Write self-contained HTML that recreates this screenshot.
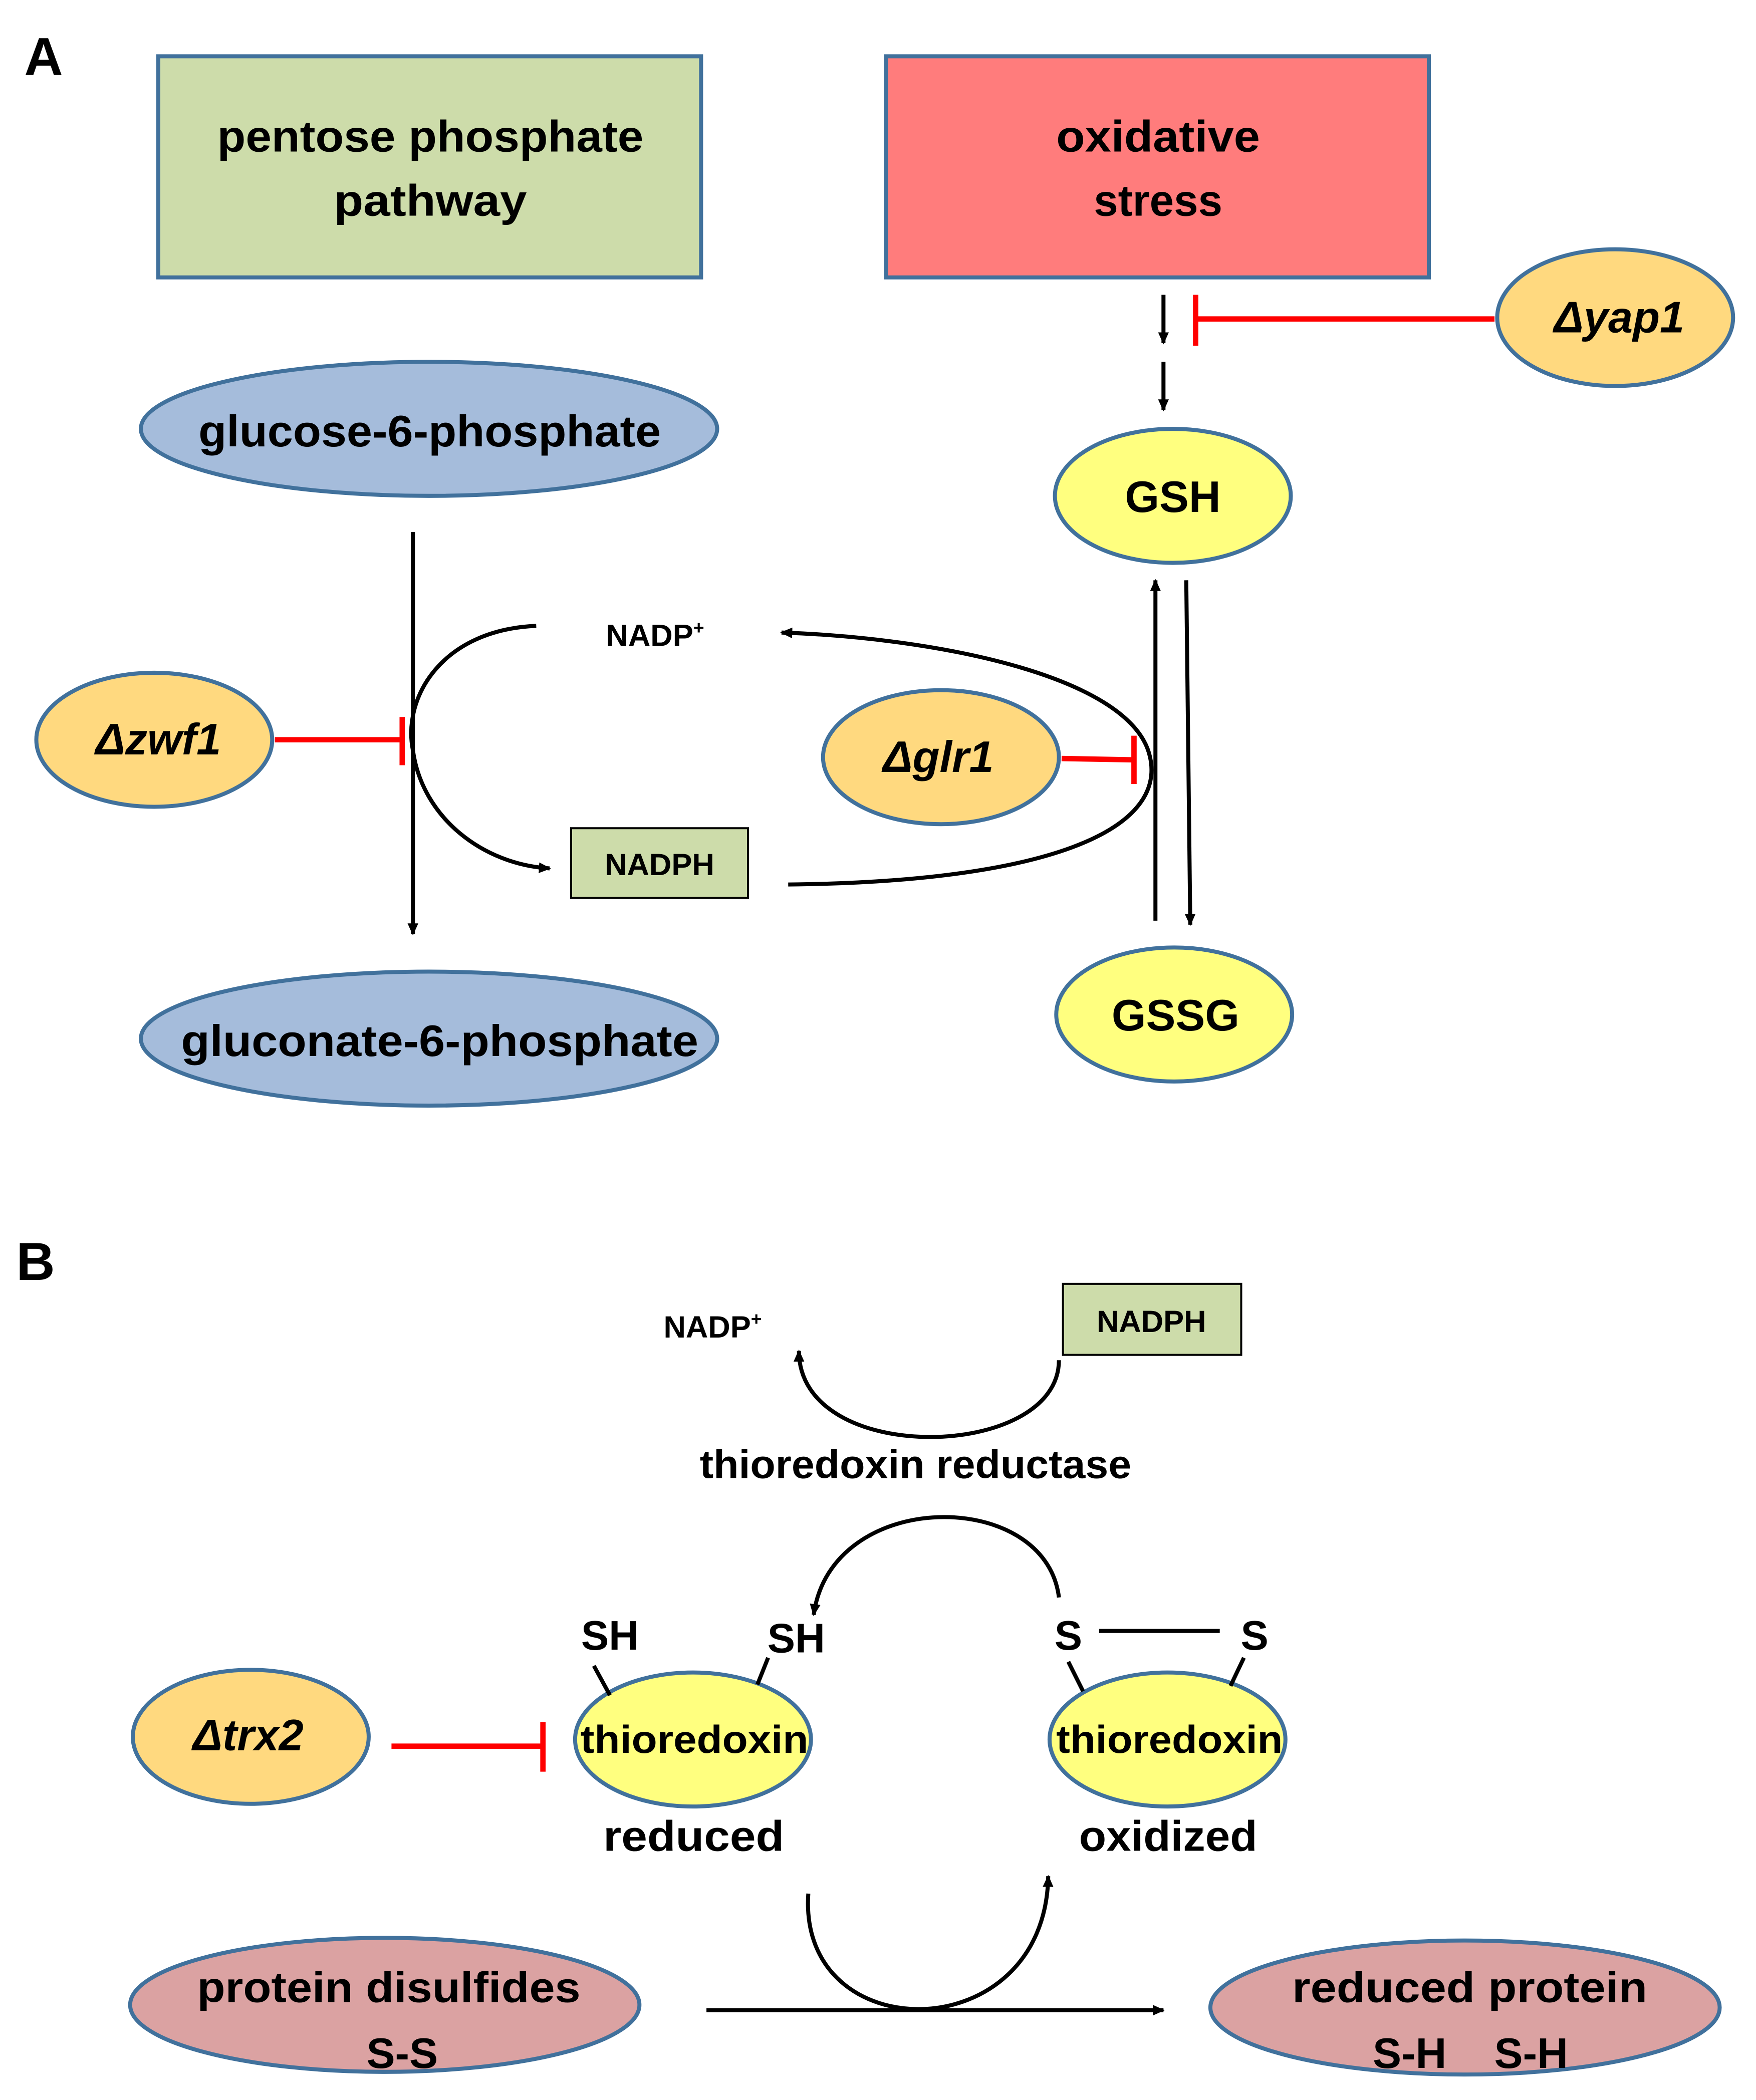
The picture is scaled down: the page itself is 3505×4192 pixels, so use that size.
<!DOCTYPE html>
<html><head><meta charset="utf-8"><style>
html,body{margin:0;padding:0;background:#fff}
svg{display:block}
text{font-family:"Liberation Sans",sans-serif;font-weight:bold;fill:#000}
</style></head><body>
<svg width="3505" height="4192" viewBox="0 0 1310 1567" xmlns="http://www.w3.org/2000/svg">
<defs>
<marker id="ah" markerWidth="10" markerHeight="10" refX="8" refY="5" orient="auto" markerUnits="userSpaceOnUse">
<path d="M0,1 L9,5 L0,9 Z" fill="#000"/></marker>
</defs>
<rect width="1310" height="1567" fill="#fff"/>
<text x="18" y="56" font-size="40">A</text>
<text x="12" y="955" font-size="40">B</text>

<rect x="118" y="42" width="405" height="165" fill="#cddcaa" stroke="#41719c" stroke-width="3"/>
<text x="162" y="113" font-size="33" textLength="318" lengthAdjust="spacingAndGlyphs">pentose phosphate</text>
<text x="249" y="161" font-size="33" textLength="144" lengthAdjust="spacingAndGlyphs">pathway</text>
<rect x="661" y="42" width="405" height="165" fill="#ff7c7c" stroke="#41719c" stroke-width="3"/>
<text x="788" y="113" font-size="33" textLength="152" lengthAdjust="spacingAndGlyphs">oxidative</text>
<text x="816" y="161" font-size="33" textLength="96" lengthAdjust="spacingAndGlyphs">stress</text>

<g stroke="#41719c" stroke-width="3">
<ellipse cx="1205" cy="237" rx="88" ry="51" fill="#ffd97f"/>
<ellipse cx="320" cy="320" rx="215" ry="50" fill="#a5bcdb"/>
<ellipse cx="875" cy="370" rx="88" ry="50" fill="#ffff7f"/>
<ellipse cx="115" cy="552" rx="88" ry="50" fill="#ffd97f"/>
<ellipse cx="702" cy="565" rx="88" ry="50" fill="#ffd97f"/>
<ellipse cx="876" cy="757" rx="88" ry="50" fill="#ffff7f"/>
<ellipse cx="320" cy="775" rx="215" ry="50" fill="#a5bcdb"/>
<ellipse cx="187" cy="1296" rx="88" ry="50" fill="#ffd97f"/>
<ellipse cx="517" cy="1298" rx="88" ry="50" fill="#ffff7f"/>
<ellipse cx="871" cy="1298" rx="88" ry="50" fill="#ffff7f"/>
<ellipse cx="287" cy="1496" rx="190" ry="50" fill="#dba2a2"/>
<ellipse cx="1093" cy="1498" rx="190" ry="50" fill="#dba2a2"/>
</g>

<text x="1208" y="248" font-size="33" font-style="italic" text-anchor="middle">Δyap1</text>
<text x="148" y="333" font-size="33" textLength="345" lengthAdjust="spacingAndGlyphs">glucose-6-phosphate</text>
<text x="875" y="382" font-size="33" text-anchor="middle">GSH</text>
<text x="118" y="563" font-size="33" font-style="italic" text-anchor="middle">Δzwf1</text>
<text x="700" y="576" font-size="33" font-style="italic" text-anchor="middle">Δglr1</text>
<text x="877" y="769" font-size="33" text-anchor="middle">GSSG</text>
<text x="135" y="788" font-size="33" textLength="386" lengthAdjust="spacingAndGlyphs">gluconate-6-phosphate</text>
<text x="185" y="1306" font-size="33" font-style="italic" text-anchor="middle">Δtrx2</text>
<text x="433" y="1308" font-size="29" textLength="170" lengthAdjust="spacingAndGlyphs">thioredoxin</text>
<text x="788" y="1308" font-size="29" textLength="169" lengthAdjust="spacingAndGlyphs">thioredoxin</text>
<text x="147" y="1494" font-size="32" textLength="286" lengthAdjust="spacingAndGlyphs">protein disulfides</text>
<text x="300" y="1543" font-size="32" text-anchor="middle">S-S</text>
<text x="964" y="1494" font-size="32" textLength="265" lengthAdjust="spacingAndGlyphs">reduced protein</text>
<text x="1097" y="1543" font-size="32" text-anchor="middle" xml:space="preserve">S-H    S-H</text>

<text x="452" y="482" font-size="23">NADP<tspan font-size="14" dy="-9">+</tspan></text>
<rect x="426" y="618" width="132" height="52" fill="#cddcaa" stroke="#000" stroke-width="1.5"/>
<text x="492" y="653" font-size="23" text-anchor="middle">NADPH</text>
<text x="495" y="998" font-size="23">NADP<tspan font-size="14" dy="-9">+</tspan></text>
<rect x="793" y="958" width="133" height="53" fill="#cddcaa" stroke="#000" stroke-width="1.5"/>
<text x="859" y="994" font-size="23" text-anchor="middle">NADPH</text>
<text x="522" y="1103" font-size="30" textLength="322" lengthAdjust="spacingAndGlyphs">thioredoxin reductase</text>
<text x="455" y="1231" font-size="31" text-anchor="middle">SH</text>
<text x="594" y="1233" font-size="31" text-anchor="middle">SH</text>
<text x="797" y="1231" font-size="31" text-anchor="middle">S</text>
<text x="936" y="1231" font-size="31" text-anchor="middle">S</text>
<text x="450" y="1381" font-size="32" textLength="135" lengthAdjust="spacingAndGlyphs">reduced</text>
<text x="805" y="1381" font-size="32" textLength="133" lengthAdjust="spacingAndGlyphs">oxidized</text>

<g stroke="#000" stroke-width="3" fill="none">
<line x1="868" y1="220" x2="868" y2="256" marker-end="url(#ah)"/>
<line x1="868" y1="270" x2="868" y2="306" marker-end="url(#ah)"/>
<line x1="308" y1="397" x2="308" y2="697" marker-end="url(#ah)"/>
<path d="M400 467 C330 470,300 520,308 560 C315 610,360 645,410 648" marker-end="url(#ah)"/>
<path d="M588 660 C780 658,870 620,858 565 C845 505,700 476,583 472" marker-end="url(#ah)"/>
<line x1="862" y1="687" x2="862" y2="433" marker-end="url(#ah)"/>
<line x1="885" y1="433" x2="888" y2="690" marker-end="url(#ah)"/>
<path d="M790 1015 C790 1090,596 1095,596 1008" marker-end="url(#ah)"/>
<path d="M790 1192 C780 1110,620 1110,607 1205" marker-end="url(#ah)"/>
<line x1="820" y1="1217" x2="910" y2="1217"/>
<line x1="443" y1="1243" x2="455" y2="1265"/>
<line x1="573" y1="1237" x2="565" y2="1257"/>
<line x1="797" y1="1240" x2="808" y2="1262"/>
<line x1="928" y1="1237" x2="918" y2="1258"/>
<path d="M603 1413 C595 1530,780 1530,782 1400" marker-end="url(#ah)"/>
<line x1="527" y1="1500" x2="868" y2="1500" marker-end="url(#ah)"/>
</g>

<g stroke="#ff0000" stroke-width="4" fill="none">
<line x1="1115" y1="238" x2="892" y2="238"/>
<line x1="892" y1="220" x2="892" y2="258"/>
<line x1="205" y1="552" x2="300" y2="552"/>
<line x1="300" y1="535" x2="300" y2="571"/>
<line x1="792" y1="566" x2="846" y2="567"/>
<line x1="846" y1="549" x2="846" y2="585"/>
<line x1="292" y1="1303" x2="405" y2="1303"/>
<line x1="405" y1="1285" x2="405" y2="1322"/>
</g>
</svg>
</body></html>
